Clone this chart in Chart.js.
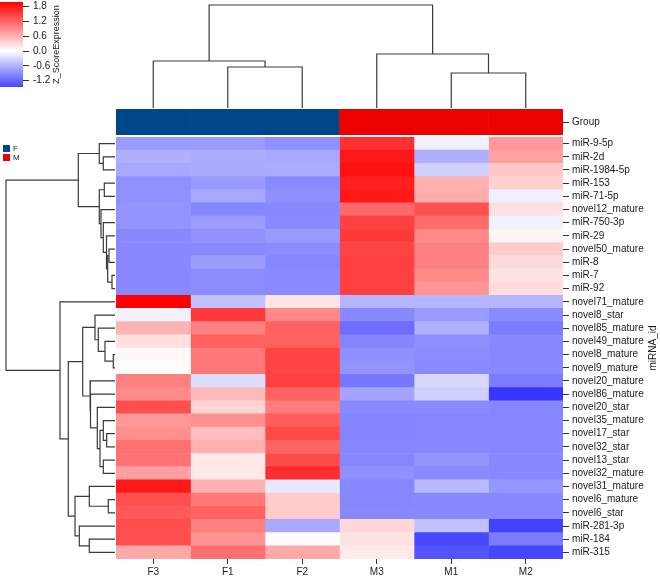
<!DOCTYPE html>
<html>
<head>
<meta charset="utf-8">
<script src="https://cdn.jsdelivr.net/npm/chart.js@4.4.0/dist/chart.umd.min.js"></script>
<style>
  html, body { margin: 0; padding: 0; background: #fff; }
  #wrap { position: relative; width: 660px; height: 578px; overflow: hidden; }
  #wrap canvas { position: absolute; }
</style>
</head>
<body>
<div id="wrap">
  <canvas id="heat" width="660" height="578" style="left:0;top:0"></canvas>
  <canvas id="groupBar" width="447" height="26" style="left:116px;top:109px"></canvas>
  <canvas id="colTree" width="447" height="108" style="left:116px;top:0"></canvas>
  <canvas id="rowTree" width="116" height="422" style="left:0;top:137px"></canvas>
  <canvas id="scaleBar" width="110" height="105" style="left:0;top:-8px"></canvas>
</div>
<script>
// samples (columns) and their group
const samples = ['F3', 'F1', 'F2', 'M3', 'M1', 'M2'];
const groups = ['F', 'F', 'F', 'M', 'M', 'M'];
const groupColors = { F: '#00468B', M: '#ED0000' };

// rows, in dendrogram order
const mirnas = [
  'miR-9-5p', 'miR-2d', 'miR-1984-5p', 'miR-153', 'miR-71-5p', 'novel12_mature',
  'miR-750-3p', 'miR-29', 'novel50_mature', 'miR-8', 'miR-7', 'miR-92',
  'novel71_mature', 'novel8_star', 'novel85_mature', 'novel49_mature', 'novel8_mature',
  'novel9_mature', 'novel20_mature', 'novel86_mature', 'novel20_star', 'novel35_mature',
  'novel17_star', 'novel32_star', 'novel13_star', 'novel32_mature', 'novel31_mature',
  'novel6_mature', 'novel6_star', 'miR-281-3p', 'miR-184', 'miR-315'
];

// z-scores per sample, same order as mirnas
const zF3 = [-0.79, -0.62, -0.68, -0.88, -0.87, -0.84, -0.84, -0.93, -0.93, -0.93, -0.93, -0.93,
  2.00, -0.10, 0.59, 0.24, 0.05, 0.02, 1.00, 0.92, 1.39, 0.81, 0.88, 1.12, 1.12, 0.75, 1.81,
  1.37, 1.31, 1.39, 1.37, 0.68];
const zF1 = [-0.79, -0.65, -0.67, -0.79, -0.68, -0.95, -0.78, -0.87, -0.93, -0.78, -0.90, -0.90,
  -0.49, 1.55, 1.00, 1.25, 1.06, 1.06, -0.27, 0.55, 0.34, 0.88, 0.52, 0.62, 0.18, 0.18, 0.62,
  1.06, 1.22, 1.00, 0.84, 1.12];
const zF2 = [-0.87, -0.68, -0.65, -0.92, -0.88, -0.93, -0.92, -0.79, -0.90, -0.95, -0.92, -0.92,
  0.20, 0.93, 1.25, 1.25, 1.47, 1.47, 1.50, 1.22, 1.03, 1.28, 1.42, 1.22, 1.42, 1.65, -0.18,
  0.40, 0.40, -0.68, -0.02, 0.68];
const zM3 = [1.62, 1.81, 1.87, 1.75, 1.81, 1.18, 1.50, 1.56, 1.47, 1.50, 1.50, 1.50,
  -0.59, -0.93, -1.15, -0.96, -0.88, -0.84, -1.06, -0.71, -0.93, -0.96, -0.96, -0.95, -0.95, -0.87, -0.95,
  -0.95, -0.93, 0.31, 0.23, 0.17];
const zM1 = [-0.12, -0.62, -0.37, 0.62, 0.65, 1.37, 1.15, 0.93, 1.00, 1.00, 0.92, 0.84,
  -0.59, -0.79, -0.62, -0.88, -0.90, -0.92, -0.31, -0.37, -0.92, -0.95, -0.95, -0.95, -0.84, -0.92, -0.56,
  -0.93, -0.93, -0.49, -1.44, -1.35];
const zM2 = [0.81, 0.75, 0.43, 0.37, -0.12, 0.24, -0.10, 0.08, 0.41, 0.29, 0.23, 0.27,
  -0.59, -0.92, -1.03, -0.93, -0.93, -0.93, -1.03, -1.58, -0.95, -0.95, -0.95, -0.95, -0.93, -0.93, -0.82,
  -0.93, -0.93, -1.48, -1.04, -1.45];

// colour key
const zTicks = [-1.2, -0.6, 0, 0.6, 1.2, 1.8];
const zRange = [-1.46, 1.99];

// hclust style merges: negative = leaf (1-based), positive = earlier merge; then height
const rowMerge = [
  [-2, -3, 11.7], [-1, 1, 15.7], [-11, -12, 3], [-9, -10, 6], [4, 3, 7.3], [-8, 5, 8.5],
  [-7, 6, 11.7], [-6, 7, 14], [-4, -5, 10.7], [9, 8, 15.7], [2, 10, 36.7],
  [-17, -18, 1.7], [-16, 12, 10], [-15, 13, 16.7], [-14, 14, 20],
  [-23, -24, 8.3], [-22, 16, 11.7], [-25, -26, 11.7], [17, 18, 15], [-21, 19, 17.7],
  [-20, 20, 24.5], [-19, 21, 25], [15, 22, 32.3],
  [-28, -29, 6.7], [-27, 24, 25.7], [-31, -32, 25.7], [-30, 26, 35.7], [25, 27, 40],
  [23, 28, 46.7], [-13, 29, 55], [11, 30, 109]
];
const colMerge = [[-2, -3, 41], [-1, 1, 47], [-5, -6, 35], [-4, 3, 54], [2, 4, 103]];

const FONT = '"Liberation Sans", Arial, sans-serif';
const TEXT = '#1a1a1a';
const LINE = '#3a3a3a';

function zColor(v) {
  const t = Math.min(Math.abs(v) / 2, 1);
  const c = Math.round(255 * (1 - t));
  return v >= 0 ? `rgb(255,${c},${c})` : `rgb(${c},${c},255)`;
}

// U shaped links of a dendrogram: [position, height] points
function treeLinks(merge) {
  const pos = [], hgt = [];
  const at = k => k < 0 ? [-k - 0.5, 0] : [pos[k - 1], hgt[k - 1]];
  return merge.map(([a, b, h], i) => {
    const [pa, ha] = at(a), [pb, hb] = at(b);
    pos[i] = (pa + pb) / 2;
    hgt[i] = h;
    return [[pa, ha], [pa, h], [pb, h], [pb, hb]];
  });
}

function linkDatasets(merge, toXY) {
  return treeLinks(merge).map(pts => ({
    data: pts.map(toXY),
    showLine: true, pointRadius: 0, borderColor: LINE, borderWidth: 1.2,
    tension: 0, fill: false, clip: false
  }));
}

const noPlugins = { legend: { display: false }, tooltip: { enabled: false } };
const zCols = [zF3, zF1, zF2, zM3, zM1, zM2];

// extra texts round the heatmap
const heatLabels = {
  id: 'heatLabels',
  afterDraw(chart) {
    const { ctx, chartArea } = chart;
    ctx.save();
    ctx.fillStyle = TEXT;
    ctx.font = '10px ' + FONT;
    ctx.textBaseline = 'middle';
    ctx.save();
    ctx.translate(653, (chartArea.top + chartArea.bottom) / 2);
    ctx.rotate(-Math.PI / 2);
    ctx.textAlign = 'center';
    ctx.fillText('miRNA_id', 0, 0);
    ctx.restore();
    // Group annotation label
    ctx.strokeStyle = '#333';
    ctx.lineWidth = 1;
    ctx.beginPath();
    ctx.moveTo(chartArea.right, 122.5);
    ctx.lineTo(chartArea.right + 6, 122.5);
    ctx.stroke();
    ctx.textAlign = 'left';
    ctx.fillText('Group', chartArea.right + 9, 122);
    // group legend
    ctx.font = '8px ' + FONT;
    [...new Set(groups)].forEach((g, i) => {
      ctx.fillStyle = groupColors[g];
      ctx.fillRect(3, 145 + 9 * i, 7, 7);
      ctx.fillStyle = TEXT;
      ctx.fillText(g, 13, 148.5 + 9 * i);
    });
    ctx.restore();
  }
};

new Chart(document.getElementById('heat'), {
  type: 'bar',
  data: {
    labels: mirnas,
    datasets: samples.map((s, j) => ({
      label: s,
      data: mirnas.map(() => 1),
      backgroundColor: zCols[j].map(zColor),
      borderWidth: 0,
      barPercentage: 1,
      categoryPercentage: 1
    }))
  },
  options: {
    indexAxis: 'y',
    responsive: false,
    animation: false,
    layout: { padding: { left: 116, top: 137, right: 0, bottom: 0 } },
    plugins: noPlugins,
    scales: {
      x: {
        type: 'linear', stacked: true, min: 0, max: 6, position: 'bottom',
        afterBuildTicks: s => { s.ticks = samples.map((_, i) => ({ value: i + 0.5 })); },
        afterFit: s => { s.height = 19; },
        ticks: { callback: (v, i) => samples[i], autoSkip: false, maxRotation: 0, padding: 2,
          font: { size: 10, family: FONT }, color: TEXT },
        grid: { drawOnChartArea: false, tickLength: 5, color: '#333' },
        border: { display: false }
      },
      y: {
        stacked: true, position: 'right',
        afterFit: s => { s.width = 97; },
        ticks: { autoSkip: false, padding: 3, font: { size: 10, family: FONT }, color: TEXT },
        grid: { drawOnChartArea: false, offset: false, tickLength: 6, color: '#333' },
        border: { display: false }
      }
    }
  },
  plugins: [heatLabels]
});

new Chart(document.getElementById('groupBar'), {
  type: 'bar',
  data: {
    labels: samples,
    datasets: [{
      data: samples.map(() => 1),
      backgroundColor: groups.map(g => groupColors[g]),
      borderWidth: 0, barPercentage: 1, categoryPercentage: 1
    }]
  },
  options: {
    responsive: false, animation: false, plugins: noPlugins,
    scales: { x: { display: false }, y: { display: false, min: 0, max: 1 } }
  }
});

new Chart(document.getElementById('colTree'), {
  type: 'scatter',
  data: { datasets: linkDatasets(colMerge, ([p, h]) => ({ x: p, y: h })) },
  options: {
    responsive: false, animation: false, plugins: noPlugins,
    scales: {
      x: { type: 'linear', display: false, min: 0, max: 6 },
      y: { type: 'linear', display: false, min: 0, max: 108 }
    }
  }
});

new Chart(document.getElementById('rowTree'), {
  type: 'scatter',
  data: { datasets: linkDatasets(rowMerge, ([p, h]) => ({ x: h, y: p })) },
  options: {
    responsive: false, animation: false, plugins: noPlugins,
    scales: {
      x: { type: 'linear', display: false, min: -1, max: 115, reverse: true },
      y: { type: 'linear', display: false, min: 0, max: mirnas.length, reverse: true }
    }
  }
});

// colour key with its title
const scaleTitle = {
  id: 'scaleTitle',
  afterDraw(chart) {
    const { ctx, chartArea } = chart;
    ctx.save();
    ctx.translate(57, (chartArea.top + chartArea.bottom) / 2);
    ctx.rotate(-Math.PI / 2);
    ctx.font = '9px ' + FONT;
    ctx.fillStyle = TEXT;
    ctx.textAlign = 'center';
    ctx.textBaseline = 'middle';
    ctx.fillText('Z_ScoreExpression', 0, 0);
    ctx.restore();
  }
};

new Chart(document.getElementById('scaleBar'), {
  type: 'bar',
  data: {
    labels: ['z'],
    datasets: [{
      data: [zRange],
      borderWidth: 0, barPercentage: 1, categoryPercentage: 1,
      backgroundColor: c => {
        const chart = c.chart;
        if (!chart.chartArea) return '#fff';
        const y = chart.scales.y;
        const top = y.getPixelForValue(zRange[1]), bot = y.getPixelForValue(zRange[0]);
        const g = chart.ctx.createLinearGradient(0, top, 0, bot);
        g.addColorStop(0, zColor(zRange[1]));
        g.addColorStop((y.getPixelForValue(0) - top) / (bot - top), '#fff');
        g.addColorStop(1, zColor(zRange[0]));
        return g;
      }
    }]
  },
  options: {
    responsive: false, animation: false, plugins: noPlugins,
    layout: { padding: { top: 8, bottom: 7, left: 0, right: 0 } },
    scales: {
      x: { display: false },
      y: {
        min: zRange[0], max: zRange[1], position: 'right',
        afterBuildTicks: s => { s.ticks = zTicks.map(v => ({ value: v })); },
        afterFit: s => { s.width = 87; },
        ticks: { callback: v => v.toFixed(1), padding: 4, font: { size: 10, family: FONT }, color: TEXT },
        grid: { drawOnChartArea: false, tickLength: 6, color: '#333' },
        border: { display: false }
      }
    }
  },
  plugins: [scaleTitle]
});
</script>
</body>
</html>
